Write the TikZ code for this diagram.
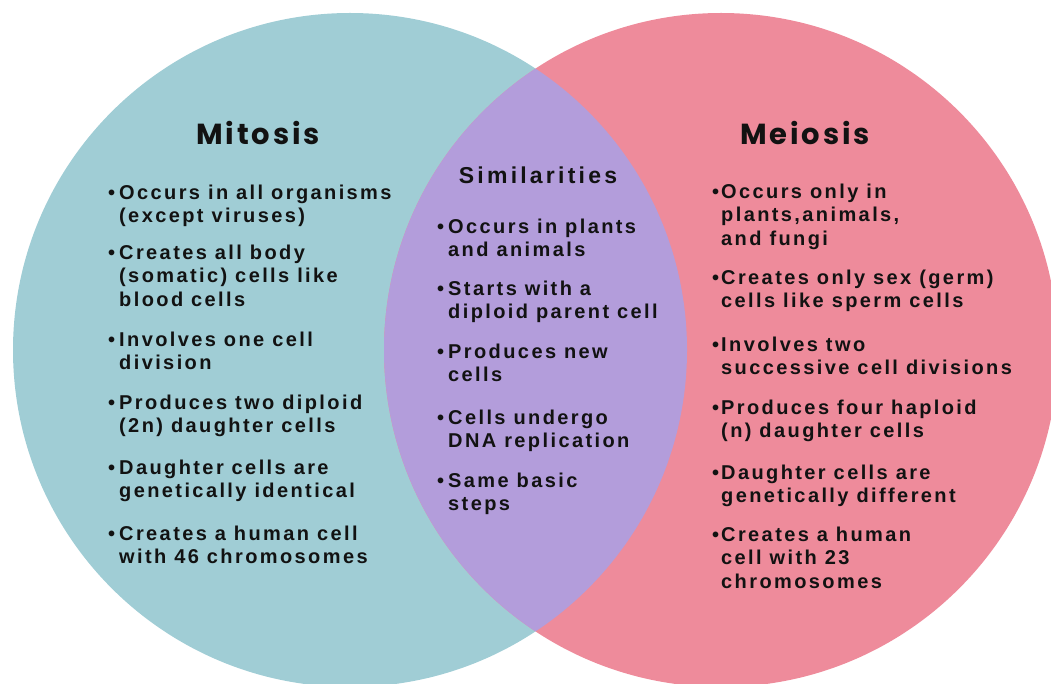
\documentclass[tikz,border=0pt]{standalone}
\usepackage{fontspec}
\newfontfamily\headfont{Poppins}[LetterSpace=10]
\newfontfamily\itemfont{Liberation Sans}[LetterSpace=12]
\newfontfamily\subfont{Liberation Sans}[LetterSpace=14]

\definecolor{mitblue}{HTML}{A0CDD5}
\definecolor{meipink}{HTML}{EE8B9B}
\definecolor{bothlav}{HTML}{B39DDB}
\definecolor{ink}{HTML}{121212}

\tikzset{
  head/.style={font=\headfont\bfseries\fontsize{29}{31}\selectfont, text=ink, inner sep=0pt},
  subhead/.style={font=\subfont\bfseries\fontsize{23}{25}\selectfont, text=ink, inner sep=0pt},
  item/.style={anchor=north west, align=left, inner sep=0pt, text=ink,
    font=\itemfont\bfseries\fontsize{20}{23.3}\selectfont},
}
\newcommand{\bul}{\llap{\textbullet\hspace{4pt}}}
\newcommand{\bult}{\llap{\textbullet\hspace{2pt}}}

\begin{document}
\begin{tikzpicture}[x=1pt,y=-1pt]
\useasboundingbox (0,0) rectangle (1051,684);
\clip (0,0) rectangle (1051,684);

% the two sets and their overlap
\fill[mitblue] (350,350) circle (337pt);
\fill[meipink] (721,350) circle (337pt);
\begin{scope}
  \clip (350,350) circle (337pt);
  \fill[bothlav] (721,350) circle (337pt);
\end{scope}

% headings
\node[head] (mit) at (258,133) {Mitosis};
\node[head] (mei) at (805,133) {Meiosis};
\node[subhead] (sim) at (538,175) {Similarities};

% mitosis
\node[item] (mit1) at (119,185) {\bul Occurs in all organisms\\(except viruses)};
\node[item] (mit2) at (119,245) {\bul Creates all body\\(somatic) cells like\\blood cells};
\node[item] (mit3) at (119,332) {\bul Involves one cell\\division};
\node[item] (mit4) at (119,395) {\bul Produces two diploid\\(2n) daughter cells};
\node[item] (mit5) at (119,460) {\bul Daughter cells are\\genetically identical};
\node[item] (mit6) at (119,526) {\bul Creates a human cell\\with 46 chromosomes};

% both
\node[item] (sim1) at (448,219) {\bul Occurs in plants\\and animals};
\node[item] (sim2) at (448,281) {\bul Starts with a\\diploid parent cell};
\node[item] (sim3) at (448,344) {\bul Produces new\\cells};
\node[item] (sim4) at (448,410) {\bul Cells undergo\\DNA replication};
\node[item] (sim5) at (448,473) {\bul Same basic\\steps};

% meiosis
\node[item] (mei1) at (721,184) {\bult Occurs only in\\plants,animals,\\and fungi};
\node[item] (mei2) at (721,270) {\bult Creates only sex (germ)\\cells like sperm cells};
\node[item] (mei3) at (721,337) {\bult Involves two\\successive cell divisions};
\node[item] (mei4) at (721,400) {\bult Produces four haploid\\(n) daughter cells};
\node[item] (mei5) at (721,465) {\bult Daughter cells are\\genetically different};
\node[item] (mei6) at (721,527) {\bult Creates a human\\cell with 23\\chromosomes};
\end{tikzpicture}
\end{document}
